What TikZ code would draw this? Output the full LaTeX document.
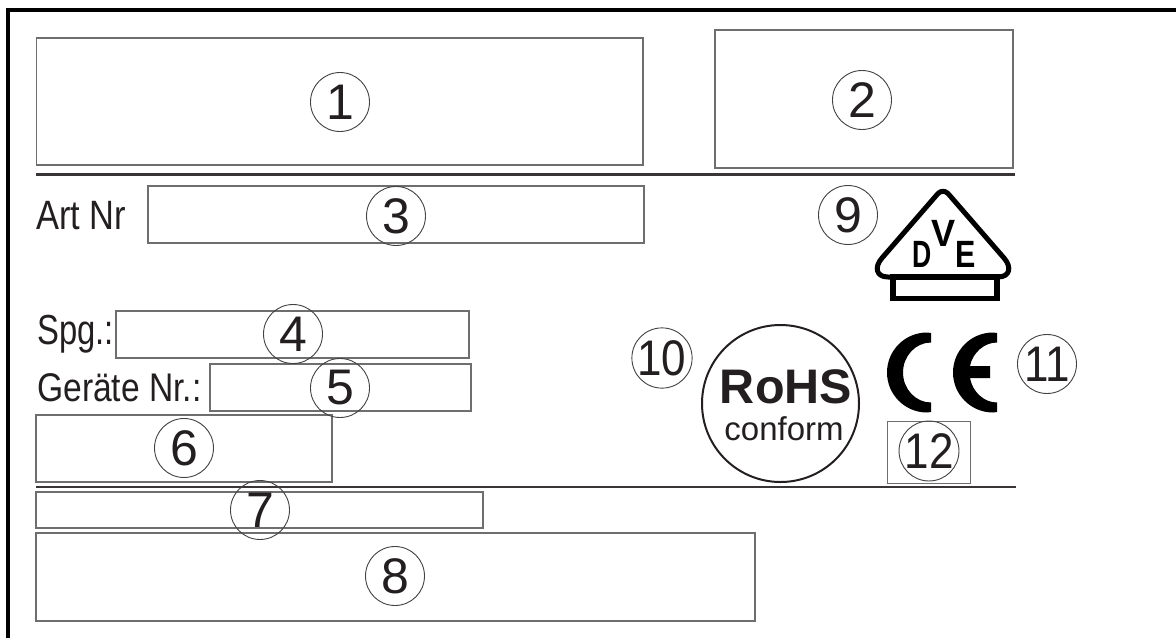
\documentclass[tikz,border=0pt]{standalone}
\usepackage{graphicx}
\usepackage{fontspec}
\setmainfont{Liberation Sans}
\definecolor{boxg}{HTML}{6E6E6E}
\definecolor{ink}{HTML}{231F20}
\newcommand{\narrowed}[2]{\scalebox{#1}[1]{#2}}
\tikzset{
 x=1pt,y=-1pt,
 fieldbox/.style={draw=boxg,line width=1.3pt},
 rulebar/.style={draw=ink!90!white,line width=2.4pt},
 numc/.style={circle,draw=ink!85!white,line width=0.9pt,minimum size=59pt,inner sep=0pt,text=ink,font=\fontsize{50}{50}\selectfont},
 lab/.style={anchor=base west,inner sep=0pt,text=ink,font=\fontsize{41}{41}\selectfont},
 vdel/.style={inner sep=0pt,font=\bfseries\fontsize{38}{38}\selectfont},
}
\begin{document}
\begin{tikzpicture}
\useasboundingbox (0,0) rectangle (1176,638);
\fill[white] (0,0) rectangle (1176,638);
% outer frame
\draw[line width=4pt,black] (8,638) -- (8,10) -- (1176,10);
% boxes
\draw[fieldbox] (36.5,38) rectangle (643,165);
\draw[fieldbox] (715,30) rectangle (1013,168);
\draw[fieldbox] (148,186) rectangle (644,243);
\draw[fieldbox] (116,311) rectangle (469,358);
\draw[fieldbox] (210,364) rectangle (471,411);
\draw[fieldbox] (36,415) rectangle (332,482);
\draw[fieldbox] (36,492) rectangle (483,528);
\draw[fieldbox] (36,533) rectangle (755,621);
\draw[fieldbox,line width=1pt] (887,421) rectangle (970,483);
% rules
\coordinate (r1a) at (36,174.5); \coordinate (r1b) at (1015,174.5);
\coordinate (r2a) at (36,487); \coordinate (r2b) at (1016,487);
\draw[rulebar] (r1a) -- (r1b);
\draw[rulebar] (r2a) -- (r2b);
% labels
\node[lab] (art) at (36,229) {\narrowed{.84}{Art Nr}};
\node[lab,font=\fontsize{42}{42}\selectfont] (spg) at (37,344.5) {\narrowed{.78}{Spg.:}};
\node[lab,font=\fontsize{40}{40}\selectfont] (ger) at (37,401.5) {\narrowed{.84}{Geräte Nr.:}};
% number circles
\node[numc] (n1) at (340,102) {1};
\node[numc] (n2) at (862,100) {2};
\node[numc] (n3) at (396,216) {3};
\node[numc] (n4) at (293,334) {4};
\node[numc] (n5) at (340,388) {5};
\node[numc] (n6) at (184,448) {6};
\node[numc] (n7) at (260,510) {7};
\node[numc] (n8) at (395,576) {8};
\node[numc] (n9) at (848,215) {9};
\node[numc] (n10) at (662,358) {\narrowed{.88}{10}};
\node[numc] (n11) at (1047,364) {\narrowed{.88}{11}};
\node[numc] (n12) at (929,451) {\narrowed{.88}{12}};
% VDE mark
\draw[black,line width=5pt,line join=round]
  (938,193.5) .. controls (941,190.5) and (945,190.5) .. (948,193.5) -- (1004,258)
  .. controls (1012,267) and (1010,277) .. (998,277) -- (888,277)
  .. controls (876,277) and (874,267) .. (882,258) -- cycle;
\draw[black,line width=5.5pt] (893,277) rectangle (997,298.5);
\node[vdel,anchor=base] (vd) at (922.5,267) {\narrowed{.7}{D}};
\node[vdel,anchor=base] (vv) at (944,246) {\narrowed{.95}{V}};
\node[vdel,anchor=base] (ve) at (965.5,267) {\narrowed{.8}{E}};
% RoHS
\node[circle,draw=ink,line width=2pt,minimum size=157pt,inner sep=0pt] (rohs) at (780.5,403.5) {};
\node[inner sep=0pt,anchor=base,text=ink,font=\bfseries\fontsize{48.5}{48.5}\selectfont] (rt) at (786,403) {RoHS};
\node[inner sep=0pt,anchor=base,text=ink,font=\fontsize{33}{33}\selectfont] (rc) at (784,440) {conform};
% CE
\fill[black] (931,333) -- (927,332.5) .. controls (905,332.5) and (887,350.4) .. (887,372.5)
  .. controls (887,394.6) and (905,412.5) .. (927,412.5) -- (931,412) -- (931,402.5)
  .. controls (915.6,402.5) and (903,389) .. (903,372.5)
  .. controls (903,356) and (915.6,342.5) .. (931,342.5) -- cycle;
\fill[black] (997,333) -- (993,332.5) .. controls (971,332.5) and (953,350.4) .. (953,372.5)
  .. controls (953,394.6) and (971,412.5) .. (993,412.5) -- (997,412) -- (997,402.5)
  .. controls (984,402.5) and (972.5,392) .. (970,378) -- (990,378) -- (990,366) -- (970,366)
  .. controls (972.5,353) and (984,342.5) .. (997,342.5) -- cycle;
\end{tikzpicture}
\end{document}
